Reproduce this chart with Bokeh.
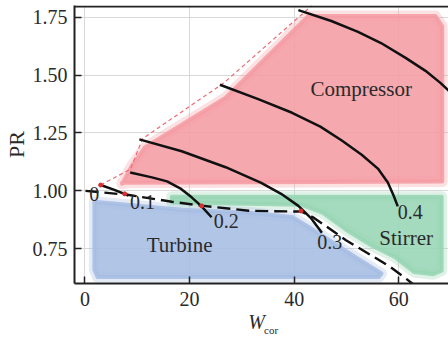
from bokeh.plotting import figure
from bokeh.models import Range1d, FixedTicker, PrintfTickFormatter, Span, LinearAxis
from bokeh.core.properties import value
from bokeh.embed import file_html
from bokeh.resources import INLINE

# ---------------- data ----------------
x_ticks = [0, 20, 40, 60]
y_ticks = [0.75, 1.00, 1.25, 1.50, 1.75]

# operating regions (outline points)
comp_x = [7.1, 9.0, 11.5, 26.9, 42.7, 67.0, 68.3, 68.3, 7.1]
comp_y = [1.030, 1.11, 1.188, 1.402, 1.755, 1.755, 1.71, 1.040, 1.035]
stir_x = [16.6, 68.2, 68.2, 66.6, 62.9, 59.4, 54.7, 49.9, 45.5, 41.3, 16.6]
stir_y = [0.975, 0.975, 0.655, 0.640, 0.650, 0.712, 0.765, 0.832, 0.905, 0.940, 0.950]
turb_x = [1.8, 18.5, 31.8, 39.6, 42.7, 52.2, 56.7, 56.2, 2.4, 1.8]
turb_y = [0.953, 0.918, 0.905, 0.887, 0.845, 0.707, 0.643, 0.628, 0.628, 0.66]

# surge line (red dashed)
surge_x = [3.0, 8.7, 11.0, 26.5, 43.4]
surge_y = [1.025, 1.094, 1.225, 1.465, 1.80]

# zero-torque line (black dashed)
dash_x = [0.1, 8.1, 16.6, 22.3, 31.3, 39.4, 41.3, 43.6, 46.1, 49.9, 54.7, 58.4, 61.5, 63.2]
dash_y = [1.000, 0.983, 0.953, 0.936, 0.914, 0.911, 0.911, 0.886, 0.847, 0.787, 0.722, 0.671, 0.619, 0.589]

# speed lines
sp01_x = [3.0, 5.5, 8.3]
sp01_y = [1.025, 1.005, 0.980]
sp02_x = [8.65, 12.8, 15.7, 18.2, 20.4, 22.3, 24.2]
sp02_y = [1.079, 1.058, 1.041, 1.011, 0.972, 0.933, 0.886]
sp03_x = [10.4, 18.5, 26.9, 33.7, 37.5, 40.8, 43.3, 45.3]
sp03_y = [1.222, 1.171, 1.102, 1.034, 0.987, 0.935, 0.880, 0.819]
sp04_x = [25.8, 33.0, 39.6, 45.0, 49.1, 52.9, 56.0, 57.9, 59.0, 59.8]
sp04_y = [1.458, 1.397, 1.337, 1.277, 1.217, 1.156, 1.096, 1.036, 0.980, 0.933]
sp05_x = [40.8, 47.1, 52.2, 56.6, 61.3, 65.1, 67.95, 70.8]
sp05_y = [1.780, 1.733, 1.686, 1.638, 1.574, 1.518, 1.466, 1.406]

# intersection markers
dot_x = [3.0, 7.6, 22.3, 41.3]
dot_y = [1.025, 0.987, 0.935, 0.913]

# speed labels
lab_text = ["0", "0.1", "0.2", "0.3", "0.4"]
lab_x = [0.8, 8.6, 24.6, 44.4, 59.8]
lab_y = [0.986, 0.952, 0.870, 0.780, 0.909]

# region names
reg_text = ["Compressor", "Turbine", "Stirrer"]
reg_x = [52.8, 18.1, 61.4]
reg_y = [1.44, 0.765, 0.795]

# ---------------- figure ----------------
FONT = "Liberation Serif"
TXT = "#2a2a2a"
NB = "\u00a0"

p = figure(width=448, height=338, x_range=Range1d(-2, 69.5), y_range=Range1d(0.6, 1.80),
           output_backend="svg", toolbar_location=None,
           min_border_left=72, min_border_right=0, min_border_top=5, min_border_bottom=54)
p.outline_line_color = None
p.background_fill_color = "white"

for ax in (p.xaxis, p.yaxis):
    ax.axis_line_width = 2
    ax.axis_line_color = "#222222"
    ax.major_tick_in = 7
    ax.major_tick_out = 0
    ax.major_tick_line_width = 1.5
    ax.major_tick_line_color = "#222222"
    ax.minor_tick_in = 0
    ax.minor_tick_out = 0
    ax.major_label_text_font = FONT
    ax.major_label_text_font_size = "20px"
    ax.major_label_text_color = TXT
    ax.axis_label_text_font = FONT
    ax.axis_label_text_color = TXT
p.xaxis.ticker = FixedTicker(ticks=x_ticks)
p.yaxis.ticker = FixedTicker(ticks=y_ticks)
p.yaxis.formatter = PrintfTickFormatter(format="%.2f")
p.xaxis.major_label_standoff = 8
p.yaxis.major_label_standoff = 7

p.yaxis.axis_label = "PR"
p.yaxis.axis_label_text_font_size = "22px"
p.yaxis.axis_label_text_font_style = "normal"
p.yaxis.axis_label_standoff = 1

p.xaxis.axis_label = "W" + NB * 2
p.xaxis.axis_label_text_font_size = "20px"
p.xaxis.axis_label_text_font_style = "italic"
p.xaxis.axis_label_standoff = 2

sub_axis = LinearAxis(ticker=FixedTicker(ticks=[]), axis_line_color=None,
                      major_tick_line_color=None, minor_tick_line_color=None,
                      major_label_text_font_size="1px", major_label_standoff=0,
                      axis_label=NB * 7 + "cor", axis_label_text_font=FONT,
                      axis_label_text_font_size="11px", axis_label_text_font_style="normal",
                      axis_label_text_color=TXT, axis_label_standoff=-12)
p.add_layout(sub_axis, "below")

p.grid.grid_line_color = "#d9d9d9"
p.grid.grid_line_width = 1

p.add_layout(Span(location=1.7957, dimension="width", line_color="#222222", line_width=2))

# regions with soft edges
def region(xs, ys, color):
    p.patch(xs, ys, fill_alpha=0, line_color=color, line_alpha=0.3, line_width=11, line_join="round")
    p.patch(xs, ys, fill_color=color, fill_alpha=0.88, line_color=color, line_alpha=0.88,
            line_width=4, line_join="round")

region(comp_x, comp_y, "#f49ca3")
region(stir_x, stir_y, "#97d5b4")
region(turb_x, turb_y, "#a6bde3")

p.line(surge_x, surge_y, line_color="#f06a74", line_width=1.2, line_dash="4 3")
p.line(dash_x, dash_y, line_color="#111111", line_width=2.4, line_dash="13 6", line_join="round")
for xs, ys in [(sp01_x, sp01_y), (sp02_x, sp02_y), (sp03_x, sp03_y), (sp04_x, sp04_y), (sp05_x, sp05_y)]:
    p.line(xs, ys, line_color="#111111", line_width=2.5, line_join="round")
p.scatter(dot_x, dot_y, size=4, color="#d83030")

p.text(lab_x, lab_y, text=lab_text, text_font=value(FONT), text_font_size="20px",
       text_color=TXT, text_align="left", text_baseline="middle")
p.text(reg_x, reg_y, text=reg_text, text_font=value(FONT), text_font_size="21px",
       text_color=TXT, text_align="center", text_baseline="middle")

open("out.html", "w").write(file_html(p, INLINE))
